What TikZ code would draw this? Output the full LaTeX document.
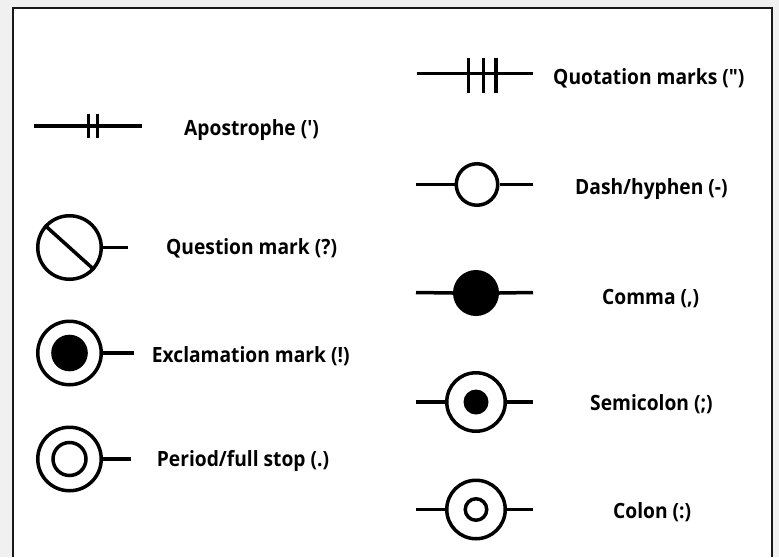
\documentclass[tikz,border=0pt]{standalone}
\usepackage{fontspec}
\newfontfamily\lblfont{Open Sans}[FakeStretch=0.915]
\begin{document}
\begin{tikzpicture}[x=1pt,y=-1pt,
  sym/.style={line width=3.5pt, black},
  ring/.style={circle, draw=black, line width=3.5pt, inner sep=0pt, fill=white},
  dot/.style={circle, fill=black, inner sep=0pt},
  lbl/.style={anchor=base west, inner sep=0pt, font=\lblfont\bfseries\fontsize{21}{24}\selectfont},
]
\fill[black!6] (0,0) rectangle (779,557);
\useasboundingbox (0,0) rectangle (779,557);
\fill[white] (13,8) rectangle (772,557);
\draw[line width=2pt, black!90] (13,557) -- (13,8) -- (772,8) -- (772,557);

% Apostrophe
\coordinate (apl) at (34,126);
\coordinate (apr) at (142,126);
\draw[sym] (apl) -- (apr);
\draw[sym] (88.3,114) -- (88.3,138.3);
\draw[sym] (97.7,114) -- (97.7,138.3);
\node[lbl] (aptext) at (184,135) {Apostrophe (')};

% Quotation marks
\coordinate (qtl) at (416.7,73.3);
\coordinate (qtr) at (533,73.3);
\draw[sym] (qtl) -- (qtr);
\draw[sym] (468.3,58.3) -- (468.3,93.3);
\draw[sym] (483.3,58.3) -- (483.3,93.3);
\draw[sym] (496,58.3) -- (496,93.3);
\node[lbl] (qttext) at (553,84) {Quotation marks (")};

% Dash/hyphen
\node[ring, minimum size=41.5pt] (dh) at (477,184.5) {};
\coordinate (dhl) at (416,184.5);
\coordinate (dhr) at (533,184.5);
\draw[sym] (dhl) -- (dh.west);
\draw[sym] (dh.east) -- (dhr);
\node[lbl] (dhtext) at (575,194) {Dash/hyphen (-)};

% Question mark
\node[ring, minimum size=63.5pt] (qm) at (69.5,247.5) {};
\draw[sym] (qm.138) -- (qm.-42);
\coordinate (qmr) at (128,247.5);
\draw[sym] (qm.east) -- (qmr);
\node[lbl] (qmtext) at (166,254) {Question mark (?)};

% Comma
\node[dot, minimum size=46pt] (cm) at (476,293) {};
\coordinate (cml) at (416,292.5);
\coordinate (cmr) at (533,292.5);
\draw[sym] (cml) -- (cm.west);
\draw[sym] (cm.east) -- (cmr);
\node[lbl] (cmtext) at (602,304) {Comma (,)};

% Exclamation mark
\node[ring, minimum size=63.5pt] (ex) at (69.5,353) {};
\node[dot, minimum size=36.6pt] (exi) at (ex) {};
\coordinate (exr) at (134,353);
\draw[sym] (ex.east) -- (exr);
\node[lbl] (extext) at (151.7,362.3) {Exclamation mark (!)};

% Semicolon
\node[ring, minimum size=58.5pt] (sc) at (476,402) {};
\node[dot, minimum size=25pt] (sci) at (sc) {};
\coordinate (scl) at (416,402);
\coordinate (scr) at (533,402);
\draw[sym] (scl) -- (sc.west);
\draw[sym] (sc.east) -- (scr);
\node[lbl] (sctext) at (590,410) {Semicolon (;)};

% Period/full stop
\node[ring, minimum size=63.5pt] (pd) at (69.5,459) {};
\node[ring, minimum size=33pt] (pdi) at (pd) {};
\coordinate (pdr) at (131,459);
\draw[sym] (pd.east) -- (pdr);
\node[lbl] (pdtext) at (156.7,466.5) {Period/full stop (.)};

% Colon
\node[ring, minimum size=58.5pt] (cl) at (476,509.5) {};
\node[ring, minimum size=21.5pt] (cli) at (cl) {};
\coordinate (cll) at (416,509.5);
\coordinate (clr) at (533,509.5);
\draw[sym] (cll) -- (cl.west);
\draw[sym] (cl.east) -- (clr);
\node[lbl] (cltext) at (613,518.3) {Colon (:)};
\end{tikzpicture}
\end{document}
